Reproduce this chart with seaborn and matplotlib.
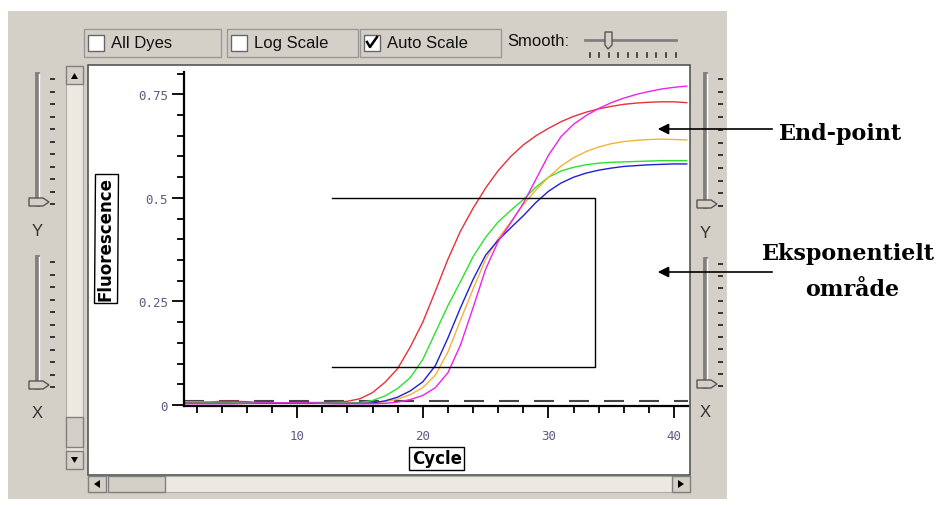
import matplotlib
matplotlib.use("Agg")
import matplotlib.pyplot as plt
from matplotlib.patches import Rectangle, Polygon, FancyArrowPatch
from matplotlib.lines import Line2D
from matplotlib.ticker import MultipleLocator, FixedLocator
import seaborn as sns
import pandas as pd

# -----------------------------------------
# Data
# -----------------------------------------
cycles = list(range(1, 42))

red = [0.006, 0.007, 0.007, 0.009, 0.009, 0.008, 0.006, 0.005, 0.005, 0.005,
       0.006, 0.006, 0.007, 0.009, 0.015, 0.030, 0.055, 0.088, 0.140, 0.200,
       0.275, 0.352, 0.420, 0.475, 0.524, 0.566, 0.600, 0.628, 0.650, 0.668,
       0.684, 0.697, 0.707, 0.715, 0.721, 0.726, 0.729, 0.731, 0.732, 0.732,
       0.730]
green = [0.008, 0.008, 0.007, 0.006, 0.005, 0.005, 0.005, 0.005, 0.004, 0.004,
         0.004, 0.005, 0.005, 0.005, 0.006, 0.011, 0.022, 0.040, 0.066, 0.110,
         0.175, 0.240, 0.298, 0.358, 0.405, 0.442, 0.470, 0.496, 0.526, 0.550,
         0.565, 0.574, 0.580, 0.584, 0.586, 0.587, 0.588, 0.589, 0.590, 0.590,
         0.590]
orange = [0.004, 0.004, 0.004, 0.004, 0.004, 0.004, 0.004, 0.004, 0.004, 0.004,
          0.004, 0.004, 0.004, 0.004, 0.004, 0.005, 0.008, 0.014, 0.025, 0.042,
          0.072, 0.128, 0.205, 0.280, 0.352, 0.402, 0.442, 0.484, 0.519, 0.550,
          0.577, 0.597, 0.612, 0.623, 0.631, 0.636, 0.639, 0.641, 0.642, 0.641,
          0.640]
blue = [0.004, 0.004, 0.004, 0.004, 0.004, 0.004, 0.004, 0.004, 0.004, 0.004,
        0.004, 0.004, 0.004, 0.004, 0.004, 0.005, 0.010, 0.019, 0.034, 0.056,
        0.095, 0.162, 0.235, 0.303, 0.362, 0.398, 0.428, 0.457, 0.489, 0.516,
        0.536, 0.550, 0.560, 0.567, 0.572, 0.576, 0.578, 0.580, 0.581, 0.582,
        0.582]
magenta = [0.003, 0.003, 0.003, 0.003, 0.003, 0.004, 0.005, 0.005, 0.005, 0.005,
           0.005, 0.004, 0.003, 0.003, 0.003, 0.003, 0.004, 0.007, 0.013, 0.023,
           0.042, 0.078, 0.145, 0.235, 0.328, 0.395, 0.440, 0.487, 0.545, 0.603,
           0.648, 0.678, 0.699, 0.716, 0.730, 0.741, 0.750, 0.757, 0.763, 0.767,
           0.770]

dye_names = ["Red", "Green", "Orange", "Blue", "Magenta"]
dye_colors = ["#e8303a", "#2ee02e", "#f7b234", "#1f1fd6", "#ee22ee"]
threshold = 0.01

# exponential region bracket
exp_cycles = (12.8, 33.7)
exp_fluor = (0.092, 0.5)

x_ticks = [10, 20, 30, 40]
y_ticks = [0, 0.25, 0.5, 0.75]
y_tick_labels = ["0", "0.25", "0.5", "0.75"]
toolbar_items = ["All Dyes", "Log Scale", "Auto Scale"]
toolbar_checked = [False, False, True]

df = pd.DataFrame({
    "Cycle": cycles * 5,
    "Fluorescence": red + green + orange + blue + magenta,
    "Dye": [n for n in dye_names for _ in cycles],
})

# -----------------------------------------
# Helpers (pixel coords, top-left origin)
# -----------------------------------------
W, H = 937, 506
GRAY = "#d4d0c8"


def fx(x):
    return x / W


def fy(y):
    return 1 - y / H


fig = plt.figure(figsize=(W / 100, H / 100), dpi=100)


def rect(x0, y0, x1, y1, z=-2, **kw):
    fig.add_artist(Rectangle((fx(x0), fy(y1)), (x1 - x0) / W, (y1 - y0) / H,
                             transform=fig.transFigure, zorder=z, **kw))


def line(xs, ys, z=-1, **kw):
    fig.add_artist(Line2D([fx(x) for x in xs], [fy(y) for y in ys],
                          transform=fig.transFigure, zorder=z, **kw))


def poly(pts, z=-1, **kw):
    fig.add_artist(Polygon([(fx(x), fy(y)) for x, y in pts], closed=True,
                           transform=fig.transFigure, zorder=z, **kw))


# -----------------------------------------
# Window background
# -----------------------------------------
rect(8, 12, 727, 500, z=-3, facecolor=GRAY, edgecolor="none")
rect(88, 66, 690, 476, z=-2, facecolor="white", edgecolor="#555555", linewidth=1.2)

# toolbar
groups = [(84, 221), (227, 358), (360, 501)]
for (g0, g1), label, checked in zip(groups, toolbar_items, toolbar_checked):
    rect(g0, 30, g1, 58, facecolor="none", edgecolor="#999999", linewidth=1)
    rect(g0 + 4, 36, g0 + 20, 52, z=-1, facecolor="white", edgecolor="#666666", linewidth=1)
    if checked:
        line([g0 + 7, g0 + 10, g0 + 17], [43, 48, 38], color="black", linewidth=1.8)
    fig.text(fx(g0 + 27), fy(44), label, fontsize=12, family="Liberation Sans",
             va="center", ha="left", color="#111111")
fig.text(fx(507), fy(42), "Smooth:", fontsize=12, family="Liberation Sans",
         va="center", ha="left", color="#111111")
line([585, 676], [41, 41], color="#808080", linewidth=2)
poly([(605, 33), (612, 33), (612, 46), (608, 50), (605, 46)], facecolor=GRAY,
     edgecolor="#555555", linewidth=1)
for i in range(10):
    line([590 + i * 9.5, 590 + i * 9.5], [54, 58], color="#333333", linewidth=1.2)

# vertical scrollbar
rect(66, 67, 83, 470, facecolor="#ece9e2", edgecolor="#b0aca4", linewidth=0.8)
for y0 in (67, 452):
    rect(66, y0, 83, y0 + 18, z=-1, facecolor=GRAY, edgecolor="#808080", linewidth=1)
rect(66, 418, 83, 448, z=-1, facecolor=GRAY, edgecolor="#808080", linewidth=1)
poly([(71, 80), (78, 80), (74.5, 74)], facecolor="black")
poly([(71, 458), (78, 458), (74.5, 464)], facecolor="black")

# horizontal scrollbar
rect(88, 477, 690, 493, facecolor="#ece9e2", edgecolor="#b0aca4", linewidth=0.8)
for x0 in (88, 672):
    rect(x0, 477, x0 + 18, 493, z=-1, facecolor=GRAY, edgecolor="#808080", linewidth=1)
rect(108, 477, 165, 493, z=-1, facecolor=GRAY, edgecolor="#808080", linewidth=1)
poly([(100, 481), (100, 489), (94, 485)], facecolor="black")
poly([(678, 481), (678, 489), (684, 485)], facecolor="black")


# sliders on both sides
def slider(xt, y0, y1, letter):
    line([xt, xt], [y0, y1], color="#808080", linewidth=3.5)
    line([xt + 2, xt + 2], [y0, y1], color="white", linewidth=1.0)
    for i in range(11):
        yy = y0 + 5 + i * (y1 - y0 - 5) / 10
        line([xt + 14, xt + 17], [yy, yy], color="#333333", linewidth=1.4)
    poly([(xt - 8, y1 - 6), (xt + 6, y1 - 6), (xt + 12, y1 - 2), (xt + 6, y1 + 2),
          (xt - 8, y1 + 2)], facecolor=GRAY, edgecolor="#555555", linewidth=1)
    fig.text(fx(xt), fy(y1 + 26), letter, fontsize=12, family="Liberation Sans",
             ha="center", va="center", color="#333333")


slider(37, 75, 205, "Y")
slider(37, 258, 388, "X")
slider(705, 75, 207, "Y")
slider(705, 260, 387, "X")

# -----------------------------------------
# Chart
# -----------------------------------------
ax = fig.add_axes([fx(184), fy(407), 504 / W, 334 / H])
ax.patch.set_alpha(0)

sns.lineplot(data=df, x="Cycle", y="Fluorescence", hue="Dye",
             palette=dict(zip(dye_names, dye_colors)), linewidth=1.0,
             legend=False, ax=ax)

ax.axhline(threshold, color="#444444", linewidth=1.5, dashes=(9.6, 7.2), zorder=1)

ax.plot([exp_cycles[0], exp_cycles[1], exp_cycles[1], exp_cycles[0]],
        [exp_fluor[1], exp_fluor[1], exp_fluor[0], exp_fluor[0]],
        color="black", linewidth=1.0)

ax.set_xlim(1, 41.1)
ax.set_ylim(-0.0024, 0.804)
sns.despine(ax=ax, top=True, right=True)
for s in ("left", "bottom"):
    ax.spines[s].set_linewidth(1.6)
    ax.spines[s].set_color("black")

ax.xaxis.set_major_locator(FixedLocator(x_ticks))
ax.xaxis.set_minor_locator(MultipleLocator(2))
ax.yaxis.set_major_locator(FixedLocator(y_ticks))
ax.yaxis.set_minor_locator(MultipleLocator(0.05))
ax.set_yticklabels(y_tick_labels)
ax.tick_params(which="major", length=8.6, width=1.3, color="black",
               labelsize=9, labelcolor="#5c5c80")
ax.tick_params(which="minor", length=5, width=1.3, color="black")
ax.tick_params(axis="x", which="major", pad=8)
ax.tick_params(axis="y", which="major", pad=3)
for lab in ax.get_xticklabels() + ax.get_yticklabels():
    lab.set_family("DejaVu Sans Mono")

box = dict(boxstyle="square,pad=0.15", facecolor="white", edgecolor="black", linewidth=1)
ax.set_xlabel("Cycle", fontsize=12, fontweight="bold", family="DejaVu Sans",
              bbox=box, va="center")
ax.xaxis.set_label_coords((437 - 184) / 504, (407 - 459) / 334)
ax.set_ylabel("Fluorescence", fontsize=12, fontweight="bold", family="DejaVu Sans",
              bbox=box, va="center", ha="center")
ax.yaxis.set_label_coords((106 - 184) / 504, (407 - 239) / 334)

# -----------------------------------------
# Annotations
# -----------------------------------------
for ya in (130, 273):
    fig.add_artist(FancyArrowPatch((fx(775), fy(ya)), (fx(655), fy(ya)),
                                   transform=fig.transFigure, arrowstyle="-|>",
                                   mutation_scale=16, color="black", linewidth=1.2,
                                   zorder=5))

fig.text(fx(841), fy(134), "End-point", fontsize=16, fontweight="bold",
         family="DejaVu Serif", ha="center", va="center")
fig.text(fx(848), fy(254), "Eksponentielt", fontsize=16, fontweight="bold",
         family="DejaVu Serif", ha="center", va="center")
fig.text(fx(852), fy(290), "område", fontsize=16, fontweight="bold",
         family="DejaVu Serif", ha="center", va="center")

fig.savefig("out.png", dpi=100, facecolor="white")
